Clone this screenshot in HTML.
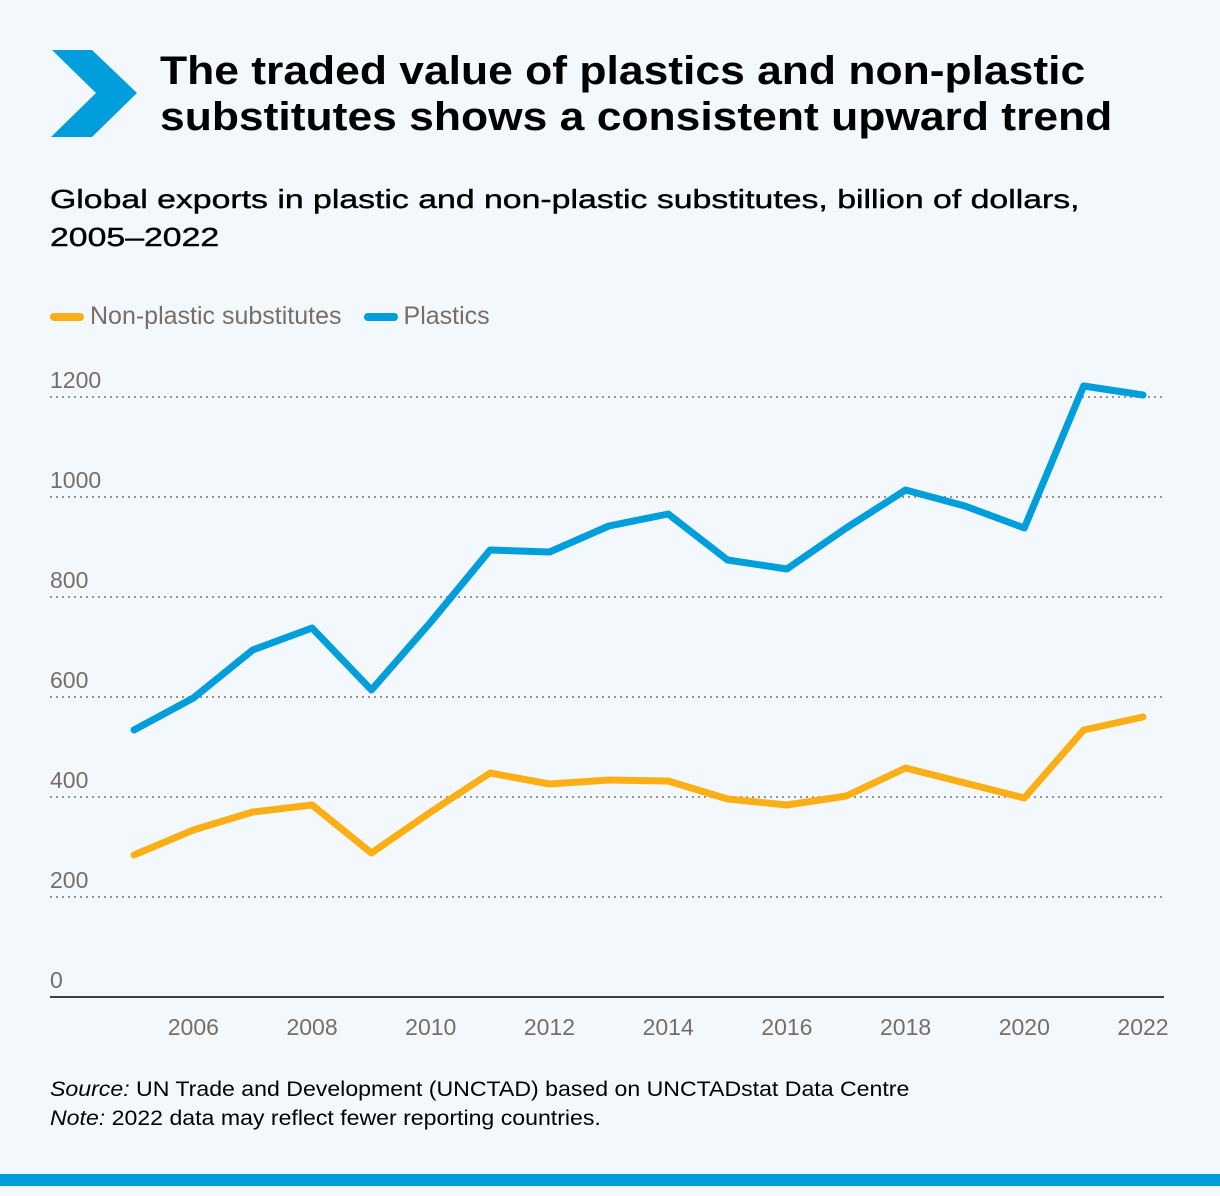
<!DOCTYPE html>
<html><head><meta charset="utf-8"><style>
body{margin:0;width:1220px;height:1196px;background:#f3f8fc;font-family:"Liberation Sans",sans-serif;position:relative;overflow:hidden}
.t{position:absolute;margin:0;white-space:nowrap}
</style></head><body>
<svg class="t" style="left:0;top:0" width="150" height="150"><polygon points="52,50 92,50 137,93 92,137 51,137 96,93" fill="#009edb"/></svg>
<h1 class="t" style="left:160px;top:48px;font-size:40px;line-height:46px;font-weight:bold;color:#000;transform:scaleX(1.11);transform-origin:left top">The traded value of plastics and non-plastic<br>substitutes shows a consistent upward trend</h1>
<div class="t" style="left:50px;top:180px;font-size:26px;line-height:38px;color:#000;transform:scaleX(1.3);transform-origin:left top;-webkit-text-stroke:0.4px #000">Global exports in plastic and non-plastic substitutes, billion of dollars,<br>2005–2022</div>
<div class="t" style="left:50px;top:302px;font-size:25px;color:#776e67;display:flex;align-items:center">
<span style="display:inline-block;width:34px;height:8px;border-radius:4px;background:#fbaf17;margin-right:6px"></span><span>Non-plastic substitutes</span>
<span style="display:inline-block;width:34px;height:8px;border-radius:4px;background:#009edb;margin:0 6px 0 22px"></span><span>Plastics</span></div>
<svg id="chart" class="t" style="left:0;top:0" width="1220" height="1070"></svg>
<div class="t" style="left:50px;top:1075px;font-size:21px;line-height:29px;color:#000;transform:scaleX(1.1);transform-origin:left top"><i>Source:</i> UN Trade and Development (UNCTAD) based on UNCTADstat Data Centre<br><i>Note:</i> 2022 data may reflect fewer reporting countries.</div>
<div class="t" style="left:0;top:1174px;width:1220px;height:12px;background:#009edb"></div>
<script>
const years=[2005,2006,2007,2008,2009,2010,2011,2012,2013,2014,2015,2016,2017,2018,2019,2020,2021,2022];
const plastics=[534,598,694,738,614,750,894,890,942,966,874,856,938,1014,982,938,1222,1204];
const nonPlastic=[284,334,370,384,288,370,448,426,434,432,396,384,402,458,428,398,534,560];
const yTicks=[0,200,400,600,800,1000,1200];
const xTicks=[2006,2008,2010,2012,2014,2016,2018,2020,2022];
const NS='http://www.w3.org/2000/svg';
const svg=document.getElementById('chart');
const x=v=>134+(v-2005)*(1143-134)/17;
const y=v=>997-v*0.5;
function mk(t,a){const e=document.createElementNS(NS,t);for(const k in a)e.setAttribute(k,a[k]);svg.appendChild(e);return e;}
yTicks.forEach(v=>{
 if(v>0){const g=mk('line',{x1:50,x2:1164,y1:y(v),y2:y(v),stroke:'#9a938d','stroke-width':2,'stroke-dasharray':'2 4'});
 
 }
 const t=mk('text',{x:50,y:y(v)-9,'font-size':23,fill:'#776e67','font-family':'Liberation Sans'});t.textContent=v;
 
 
});
const ax=mk('line',{x1:50,x2:1164,y1:997,y2:997,stroke:'#000','stroke-width':1.5});


xTicks.forEach(v=>{const t=mk('text',{x:x(v),y:1035,'font-size':23,fill:'#776e67','text-anchor':'middle','font-family':'Liberation Sans'});t.textContent=v;
 
 });
function line(d,c,n){const p=mk('polyline',{points:d.map((v,i)=>x(years[i])+','+y(v)).join(' '),fill:'none',stroke:c,'stroke-width':7,'stroke-linejoin':'round','stroke-linecap':'round'});
 
 }
line(nonPlastic,'#fbaf17','non-plastic-line');
line(plastics,'#009edb','plastics-line');
</script>
</body></html>
